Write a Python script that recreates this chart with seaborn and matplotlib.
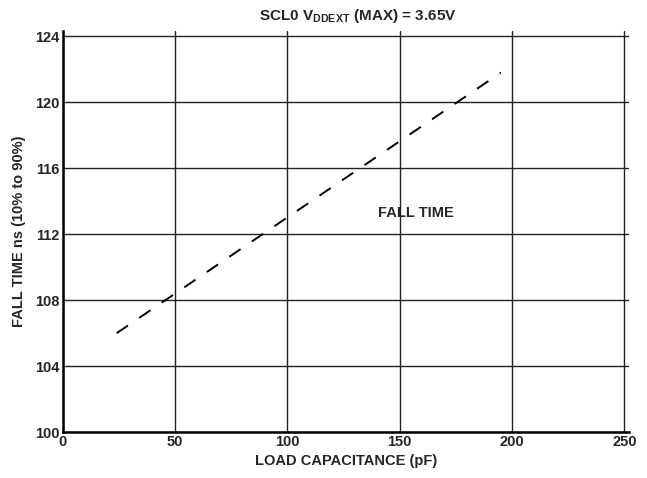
import pandas as pd
import numpy as np
import matplotlib
matplotlib.use("Agg")
import matplotlib.pyplot as plt
import seaborn as sns

# data
load_pf = [24, 195]
fall_ns = [106.0, 121.8]
x_ticks = [0, 50, 100, 150, 200, 250]
y_ticks = [100, 104, 108, 112, 116, 120, 124]

sns.set_style("white")
plt.rcParams['font.family'] = ['Liberation Sans', 'DejaVu Sans']
plt.rcParams['mathtext.fontset'] = 'custom'
plt.rcParams['mathtext.bf'] = 'Liberation Sans:bold'
plt.rcParams['mathtext.rm'] = 'Liberation Sans:bold'

df = pd.DataFrame({"load": load_pf, "fall": fall_ns})

fig = plt.figure(figsize=(6.47, 4.78), dpi=100)
ax = fig.add_axes([0.097, 0.096, 0.875, 0.840])

sns.lineplot(data=df, x="load", y="fall", ax=ax, color="black", lw=1.4,
             dashes=False, linestyle=(0, (7, 7)))

ax.set_xlim(0, 252)
ax.set_ylim(100, 124.35)
ax.set_xticks(x_ticks)
ax.set_yticks(y_ticks)
ax.grid(True, color="#222222", lw=1.0)
ax.tick_params(length=0, pad=2, labelsize=10.5)
for lab in ax.get_xticklabels() + ax.get_yticklabels():
    lab.set_fontweight("bold")

for s in ["top", "right"]:
    ax.spines[s].set_visible(False)
for s in ["left", "bottom"]:
    ax.spines[s].set_color("black")
    ax.spines[s].set_linewidth(1.8)

ax.set_xlabel("LOAD CAPACITANCE (pF)", fontsize=10.5, fontweight="bold", labelpad=4)
ax.set_ylabel("FALL TIME ns (10% to 90%)", fontsize=10.5, fontweight="bold", labelpad=7)

ax.text(157, 113.3, "FALL TIME", fontsize=10.5, fontweight="bold",
        ha="center", va="center")

fig.text(358 / 647, 1 - 16 / 478, r"SCL0 V$_{\mathbf{DDEXT}}$ (MAX) = 3.65V",
         fontsize=11, fontweight="bold", ha="center", va="center")

fig.savefig("out.png", dpi=100)
